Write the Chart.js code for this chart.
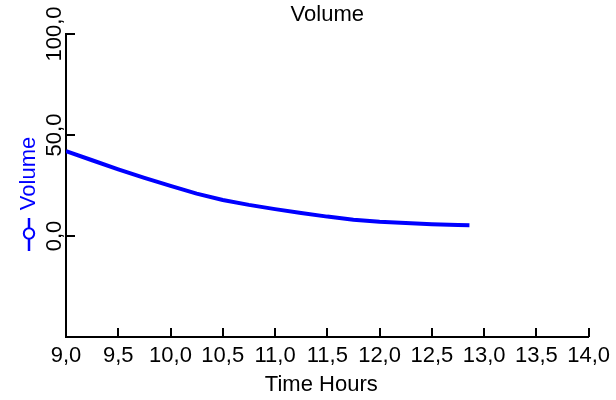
<!DOCTYPE html>
<html>
<head>
<meta charset="utf-8">
<script src="https://cdn.jsdelivr.net/npm/chart.js@4"></script>
<style>
  html, body { margin: 0; padding: 0; background: #ffffff; }
  canvas { display: block; }
</style>
</head>
<body>
<canvas id="c" width="616" height="400"></canvas>
<script>
// ---- data ----
const timeHours = [9.0, 9.25, 9.5, 9.75, 10.0, 10.25, 10.5, 10.75, 11.0, 11.25, 11.5, 11.75, 12.0, 12.25, 12.5, 12.75, 12.86];
const volume    = [42.0, 37.5, 33.0, 28.8, 24.8, 21.0, 17.8, 15.4, 13.3, 11.4, 9.6, 8.1, 7.1, 6.4, 5.8, 5.4, 5.3];

const xTickValues = [9.0, 9.5, 10.0, 10.5, 11.0, 11.5, 12.0, 12.5, 13.0, 13.5, 14.0];
const xTickLabels = ['9,0', '9,5', '10,0', '10,5', '11,0', '11,5', '12,0', '12,5', '13,0', '13,5', '14,0'];
const yTickValues = [0, 50, 100];
const yTickLabels = ['0,0', '50,0', '100,0'];

const chartTitle = 'Volume';
const xTitle = 'Time Hours';
const yTitle = 'Volume';
const seriesColor = '#0000ff';

const FONT = '"Liberation Sans", Arial, sans-serif';

const customAxes = {
  id: 'customAxes',
  afterDraw(chart) {
    const ctx = chart.ctx;
    const xs = chart.scales.x, ys = chart.scales.y;
    const area = chart.chartArea;
    ctx.save();
    // inward tick marks
    ctx.strokeStyle = '#000';
    ctx.lineWidth = 2;
    ctx.beginPath();
    xTickValues.forEach(v => {
      const px = Math.round(xs.getPixelForValue(v));
      ctx.moveTo(px, area.bottom);
      ctx.lineTo(px, area.bottom - 9);
    });
    yTickValues.forEach(v => {
      const py = Math.round(ys.getPixelForValue(v));
      ctx.moveTo(area.left, py);
      ctx.lineTo(area.left + 9, py);
    });
    ctx.stroke();
    ctx.fillStyle = '#000';
    ctx.font = '22px ' + FONT;
    ctx.textAlign = 'center';
    ctx.textBaseline = 'middle';
    // chart title, centred on the plot area
    ctx.fillText(chartTitle, (area.left + area.right) / 2, 15.2);
    // x axis title
    ctx.fillText(xTitle, (area.left + area.right) / 2 - 6, 385);
    // rotated y tick labels
    yTickValues.forEach((v, i) => {
      const py = ys.getPixelForValue(v);
      ctx.save();
      ctx.translate(area.left - 11.5, py);
      ctx.rotate(-Math.PI / 2);
      ctx.fillText(yTickLabels[i], 0, 0);
      ctx.restore();
    });
    // y axis title with legend marker
    const cx = 29;
    ctx.save();
    ctx.translate(cx, 173.5);
    ctx.rotate(-Math.PI / 2);
    ctx.fillStyle = seriesColor;
    ctx.fillText(yTitle, 0, 0);
    ctx.restore();
    ctx.strokeStyle = seriesColor;
    ctx.lineWidth = 2.5;
    ctx.beginPath();
    ctx.moveTo(cx, 218);
    ctx.lineTo(cx, 251);
    ctx.stroke();
    ctx.beginPath();
    ctx.arc(cx, 233.5, 5.2, 0, Math.PI * 2);
    ctx.fillStyle = '#fff';
    ctx.fill();
    ctx.lineWidth = 2;
    ctx.stroke();
    ctx.restore();
  }
};

new Chart(document.getElementById('c'), {
  type: 'line',
  data: {
    datasets: [{
      label: yTitle,
      data: timeHours.map((t, i) => ({ x: t, y: volume[i] })),
      borderColor: seriesColor,
      backgroundColor: seriesColor,
      borderWidth: 4,
      pointRadius: 0,
      tension: 0,
      fill: false
    }]
  },
  options: {
    responsive: false,
    animation: false,
    devicePixelRatio: 1,
    layout: { padding: { left: 0, right: 27, top: 34, bottom: 0 } },
    plugins: {
      legend: { display: false },
      tooltip: { enabled: false },
      title: { display: false }
    },
    scales: {
      x: {
        type: 'linear',
        position: 'bottom',
        min: 9, max: 14,
        afterBuildTicks: s => { s.ticks = xTickValues.map(v => ({ value: v })); },
        afterFit: s => { s.height = 63; },
        ticks: {
          color: '#000',
          font: { family: FONT, size: 22 },
          padding: 6,
          maxRotation: 0, minRotation: 0,
          autoSkip: false,
          callback: v => xTickLabels[xTickValues.indexOf(v)]
        },
        grid: { display: false, drawTicks: false },
        border: { display: true, color: '#000', width: 2 },
        title: { display: false }
      },
      y: {
        type: 'linear',
        min: -50, max: 100,
        afterBuildTicks: s => { s.ticks = yTickValues.map(v => ({ value: v })); },
        afterFit: s => { s.width = 66; },
        ticks: { display: false },
        grid: { display: false, drawTicks: false },
        border: { display: true, color: '#000', width: 2 }
      }
    }
  },
  plugins: [customAxes]
});
</script>
</body>
</html>
